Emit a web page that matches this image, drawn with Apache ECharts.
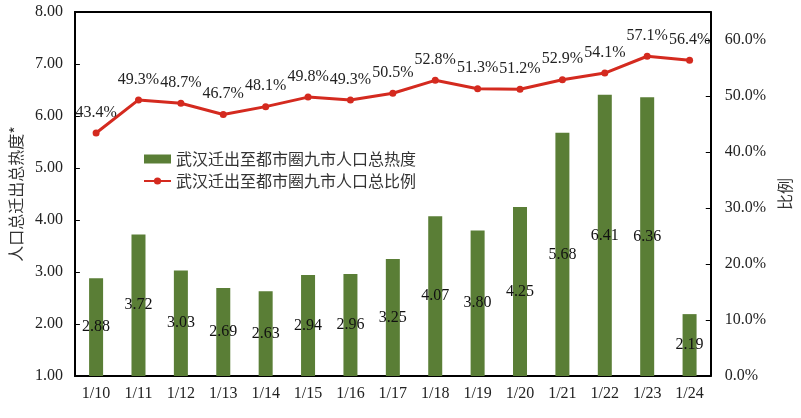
<!DOCTYPE html>
<html><head><meta charset="utf-8">
<script src="https://cdn.jsdelivr.net/npm/echarts@6/dist/echarts.min.js"></script>
<style>html,body{margin:0;padding:0;background:#fff}#c{width:801px;height:418px}</style>
</head><body><div id="c"></div>
<script>
const categories = ['1/10','1/11','1/12','1/13','1/14','1/15','1/16','1/17','1/18','1/19','1/20','1/21','1/22','1/23','1/24'];
const heatValues = [2.88,3.72,3.03,2.69,2.63,2.94,2.96,3.25,4.07,3.80,4.25,5.68,6.41,6.36,2.19];
const ratioValues = [43.4,49.3,48.7,46.7,48.1,49.8,49.3,50.5,52.8,51.3,51.2,52.9,54.1,57.1,56.4];
const barName = '武汉迁出至都市圈九市人口总热度';
const lineName = '武汉迁出至都市圈九市人口总比例';
const serif = 'Liberation Serif';
const sans = 'Noto Sans CJK SC';
const chart = echarts.init(document.getElementById('c'));
chart.setOption({
  animation: false,
  grid: {left: 71, right: 90, top: 12, bottom: 42},
  legend: {
    orient: 'vertical', left: 138, top: 146, itemGap: 6,
    itemWidth: 27, itemHeight: 9,
    textStyle: {fontFamily: sans, fontSize: 16, color: '#333'},
    data: [{name: barName, icon: 'rect'}, {name: lineName}]
  },
  xAxis: [{
    type: 'category', data: categories,
    axisLine: {lineStyle: {color: '#000', width: 2}},
    axisTick: {show: false},
    axisLabel: {fontFamily: serif, fontSize: 16, color: '#222', margin: 10}
  }, {
    type: 'category', data: categories, position: 'top',
    axisLine: {lineStyle: {color: '#000', width: 2}},
    axisTick: {show: false}, axisLabel: {show: false}
  }],
  yAxis: [{
    type: 'value', min: 1, max: 8, interval: 1,
    name: '人口总迁出总热度*', nameLocation: 'middle', nameGap: 46,
    nameTextStyle: {fontFamily: sans, fontSize: 16, color: '#333'},
    axisLine: {show: true, lineStyle: {color: '#000', width: 2}},
    axisTick: {show: true, inside: true, length: 5, lineStyle: {color: '#000'}},
    splitLine: {show: false},
    axisLabel: {fontFamily: serif, fontSize: 16, color: '#222', margin: 12,
      formatter: v => v.toFixed(2)}
  }, {
    type: 'value', min: 0, max: 65, interval: 10,
    name: '比例', nameLocation: 'middle', nameGap: 66,
    nameTextStyle: {fontFamily: sans, fontSize: 16, color: '#333'},
    axisLine: {show: true, lineStyle: {color: '#000', width: 2}},
    axisTick: {show: true, inside: true, length: 5, lineStyle: {color: '#000'}},
    splitLine: {show: false},
    axisLabel: {fontFamily: serif, fontSize: 16, color: '#222', margin: 14,
      showMaxLabel: false, formatter: v => v.toFixed(1) + '%'}
  }],
  series: [{
    name: barName, type: 'bar', data: heatValues, barWidth: 14,
    itemStyle: {color: '#5a7e36'},
    label: {show: true, position: 'inside', fontFamily: serif, fontSize: 16, color: '#111',
      formatter: p => p.value.toFixed(2)}
  }, {
    name: lineName, type: 'line', yAxisIndex: 1, data: ratioValues,
    symbol: 'circle', symbolSize: 7,
    lineStyle: {color: '#d42a1f', width: 3},
    itemStyle: {color: '#d42a1f'},
    label: {show: true, position: 'top', distance: 9, fontFamily: serif, fontSize: 16, color: '#222',
      formatter: p => p.value.toFixed(1) + '%'}
  }]
});
</script></body></html>
